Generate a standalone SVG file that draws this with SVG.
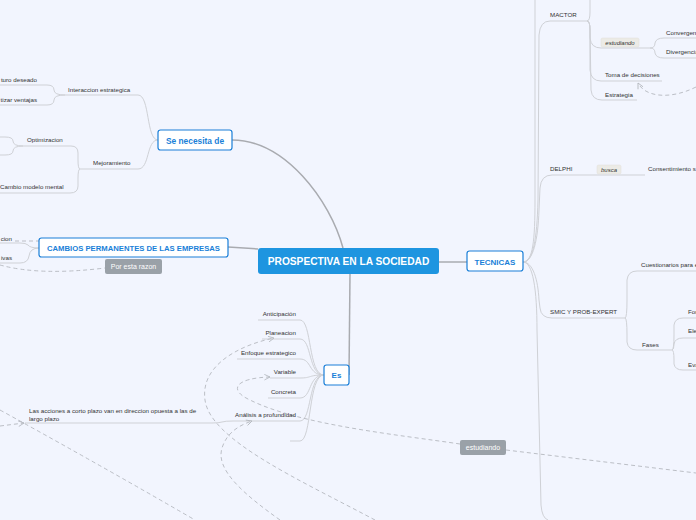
<svg xmlns="http://www.w3.org/2000/svg" width="696" height="520" viewBox="0 0 696 520">
<defs>
<style>
.t{font-family:"Liberation Sans",Arial,sans-serif;font-size:6.2px;fill:#333}
.n{font-family:"Liberation Sans",Arial,sans-serif;font-weight:bold;fill:#1a7fd8;text-anchor:middle}
.box{fill:#fff;stroke:#1a7fd8;stroke-width:1.2}
.l{fill:none;stroke:#cfd1d6;stroke-width:1}
.m{fill:none;stroke:#a9abb0;stroke-width:1.5}
.d{fill:none;stroke:#b4b8be;stroke-width:0.9;stroke-dasharray:4 3}
.gl{fill:#9aa1a8}
.gt{font-family:"Liberation Sans",Arial,sans-serif;font-size:7px;fill:#fff;text-anchor:middle}
.bl{fill:#ecebe6;stroke:#e0ded8;stroke-width:0.5}
.bt{font-family:"Liberation Sans",Arial,sans-serif;font-size:6px;font-style:italic;fill:#333;text-anchor:middle}
</style>
<marker id="ar" viewBox="0 0 10 10" refX="9" refY="5" markerWidth="7" markerHeight="7" orient="auto" markerUnits="userSpaceOnUse">
<path d="M1,1 L9,5 L1,9" fill="none" stroke="#b4b8be" stroke-width="1.2"/>
</marker>
</defs>
<rect width="696" height="520" fill="#f2f5fe"/>
<g id="connectors">
<path class="m" d="M343,248 C330,200 285,140 232,140"/>
<path class="m" d="M258,249 L228,247"/>
<path class="m" d="M439,262 L467,262"/>
<path class="m" d="M350,274 L349,375"/>
<path class="l" d="M158,140 C146,140 150,95 138,95 L65,95"/>
<path class="l" d="M158,140 C146,140 150,169 138,169 L80,169"/>
<path class="l" d="M65,95 Q54,95 54,90 Q54,85 47,85 L0,85"/>
<path class="l" d="M65,95 Q54,95 54,100 Q54,105 47,105 L0,105"/>
<path class="l" d="M80,169 Q78,169 78,160 L78,153 Q78,146 71,146 L23,146"/>
<path class="l" d="M80,169 Q78,169 78,178 L78,186 Q78,193 70,193 L0,193"/>
<path class="l" d="M23,146 Q13,146 13,141 Q13,137 5,137 L0,137"/>
<path class="l" d="M23,146 Q13,146 13,151 Q13,155 5,155 L0,155"/>
<path class="l" d="M39,248 Q30,248 28,245 Q26,243 20,243 L0,243"/>
<path class="l" d="M39,248 Q30,248 29,256 Q28,263 20,263 L0,263"/>
<path class="d" d="M15,241 L39,241"/>
<path class="d" d="M0,265 Q40,276 105,268"/>
<path class="l" d="M523,262 C533,262 535,240 535,200 L535,0"/>
<path class="l" d="M523,262 C533,262 537,240 538,200 L539,35 Q540,21 550,21 L587,21"/>
<path class="l" d="M523,262 C533,262 538,240 539,210 L540,188 Q541,175 552,175 L645,175"/>
<path class="l" d="M523,262 C533,262 538,280 539,300 L540,308 Q541,318 552,318 L625,318"/>
<path class="l" d="M523,262 C533,262 537,290 537,330 L541,505 Q542,518 548,520"/>
<path class="l" d="M587,21 Q590,21 590,12 L590,0"/>
<path class="l" d="M587,21 Q590,21 590,30 L590,38 Q591,48 601,48 L650,48"/>
<path class="l" d="M587,21 Q590,21 590,30 L590,70 Q591,81 601,81 L662,81"/>
<path class="l" d="M587,21 Q590,21 590,30 L591,90 Q592,100 602,100 L637,100"/>
<path class="l" d="M650,48 Q655,48 655,43 Q656,38 664,38 L696,38"/>
<path class="l" d="M650,48 Q655,48 655,53 Q656,58 664,58 L696,58"/>
<path class="l" d="M625,318 Q627,318 627,300 L627,280 Q628,271 637,271 L696,271"/>
<path class="l" d="M625,318 Q627,318 627,335 L627,342 Q628,350 637,350 L672,350"/>
<path class="l" d="M672,350 Q674,350 674,335 L674,325 Q675,318 683,318 L696,318"/>
<path class="l" d="M672,350 Q674,350 674,344 Q675,338 683,338 L696,338"/>
<path class="l" d="M672,350 Q674,350 674,360 L674,364 Q675,370 683,370 L696,370"/>
<path class="l" d="M324,375 C308,375 312,320 300,320 L258,320"/>
<path class="l" d="M324,375 C308,375 312,339 300,339 L262,339"/>
<path class="l" d="M324,375 C308,375 312,359 300,359 L237,359"/>
<path class="l" d="M324,375 C308,375 312,378 300,378 L270,378"/>
<path class="l" d="M324,375 C308,375 312,398 300,398 L268,398"/>
<path class="l" d="M324,375 C308,375 312,421 300,421 L233,421"/>
<path class="l" d="M324,375 C308,375 312,441 300,441 L290,441"/>
<path class="l" d="M233,421 Q225,421 222,422 Q219,423 212,423 L25,423"/>
<path class="d" d="M696,87 C670,100 645,97 638,83" marker-end="url(#ar)"/>
<path class="d" d="M375,520 C300,480 210,440 205,400 C200,365 240,345 274,338" marker-end="url(#ar)"/>
<path class="d" d="M280,520 C245,495 215,470 222,448 C227,432 240,425 252,421" marker-end="url(#ar)"/>
<path class="d" d="M460,444 C400,435 300,425 250,400 C228,390 235,378 270,377" marker-end="url(#ar)"/>
<path class="d" d="M506,450 L696,473"/>
<path class="d" d="M0,410 Q100,465 195,520"/>
<path class="d" d="M0,426 L24,423" marker-end="url(#ar)"/>
</g>
<g id="central">
<rect x="258" y="248" width="181" height="26" rx="3" fill="#1e95e0"/>
<text x="348.5" y="265" class="n" style="fill:#fff;font-size:10.2px">PROSPECTIVA EN LA SOCIEDAD</text>
</g>
<g id="se-necesita-de">
<rect class="box" x="158" y="130" width="74" height="20" rx="2.5"/>
<text x="195" y="143.5" class="n" font-size="8.4">Se necesita de</text>
</g>
<g id="cambios">
<rect class="box" x="39" y="238" width="189" height="19" rx="2.5"/>
<text x="133.5" y="250.5" class="n" font-size="7.7">CAMBIOS PERMANENTES DE LAS EMPRESAS</text>
</g>
<g id="por-esta-razon">
<rect class="gl" x="105" y="259" width="57" height="15" rx="2"/>
<text x="133.5" y="269" class="gt">Por esta razon</text>
</g>
<g id="tecnicas">
<rect class="box" x="467" y="251" width="56" height="20" rx="2.5"/>
<text x="495" y="264.5" class="n" font-size="8">TECNICAS</text>
</g>
<g id="es">
<rect class="box" x="324" y="365" width="25" height="20" rx="2.5"/>
<text x="336.5" y="378" class="n" font-size="8">Es</text>
</g>
<g id="estudiando-label">
<rect class="gl" x="460" y="440" width="46" height="15" rx="2"/>
<text x="483" y="450" class="gt">estudiando</text>
</g>
<g id="interaccion"><text x="68" y="92" class="t">Interaccion estrategica</text></g>
<g id="futuro"><text x="37" y="82" class="t" text-anchor="end">turo deseado</text></g>
<g id="ventajas"><text x="37" y="102" class="t" text-anchor="end">tizar ventajas</text></g>
<g id="mejoramiento"><text x="93" y="165" class="t">Mejoramiento</text></g>
<g id="optimizacion"><text x="27" y="142" class="t">Optimizacion</text></g>
<g id="cambio-modelo"><text x="0" y="189" class="t">Cambio modelo mental</text></g>
<g id="cion"><text x="12" y="241" class="t" text-anchor="end">cion</text></g>
<g id="ivas"><text x="12" y="260" class="t" text-anchor="end">ivas</text></g>
<g id="anticipacion"><text x="296" y="316" class="t" text-anchor="end">Anticipación</text></g>
<g id="planeacion"><text x="296" y="335" class="t" text-anchor="end">Planeacion</text></g>
<g id="enfoque"><text x="296" y="355" class="t" text-anchor="end">Enfoque estrategico</text></g>
<g id="variable"><text x="296" y="374" class="t" text-anchor="end">Variable</text></g>
<g id="concreta"><text x="296" y="394" class="t" text-anchor="end">Concreta</text></g>
<g id="analisis"><text x="296" y="417" class="t" text-anchor="end">Análisis a profundidad</text></g>
<g id="acciones"><text x="29" y="413" class="t">Las acciones a corto plazo van en direccion opuesta a las de</text><text x="29" y="420.5" class="t">largo plazo</text></g>
<g id="mactor"><text x="550" y="17" class="t">MACTOR</text></g>
<g id="estudiando-mactor"><rect class="bl" x="601" y="38" width="38" height="9" rx="1.5"/><text x="620" y="44.5" class="bt">estudiando</text></g>
<g id="convergencia"><text x="666" y="35" class="t">Convergenc</text></g>
<g id="divergencia"><text x="666" y="54" class="t">Divergencia</text></g>
<g id="toma"><text x="605" y="77" class="t">Toma de decisiones</text></g>
<g id="estrategia"><text x="605" y="97" class="t">Estrategia</text></g>
<g id="delphi"><text x="550" y="171" class="t">DELPHI</text></g>
<g id="busca"><rect class="bl" x="597" y="165" width="24" height="9" rx="1.5"/><text x="609" y="171.5" class="bt">busca</text></g>
<g id="consentimiento"><text x="648" y="171" class="t">Consentimiento s</text></g>
<g id="smic"><text x="550" y="314" class="t">SMIC Y PROB-EXPERT</text></g>
<g id="cuestionarios"><text x="641" y="267" class="t">Cuestionarios para e</text></g>
<g id="fases"><text x="642" y="347" class="t">Fases</text></g>
<g id="for"><text x="688" y="314" class="t">For</text></g>
<g id="ele"><text x="688" y="333" class="t">Ele</text></g>
<g id="eva"><text x="688" y="367" class="t">Eva</text></g>
</svg>
